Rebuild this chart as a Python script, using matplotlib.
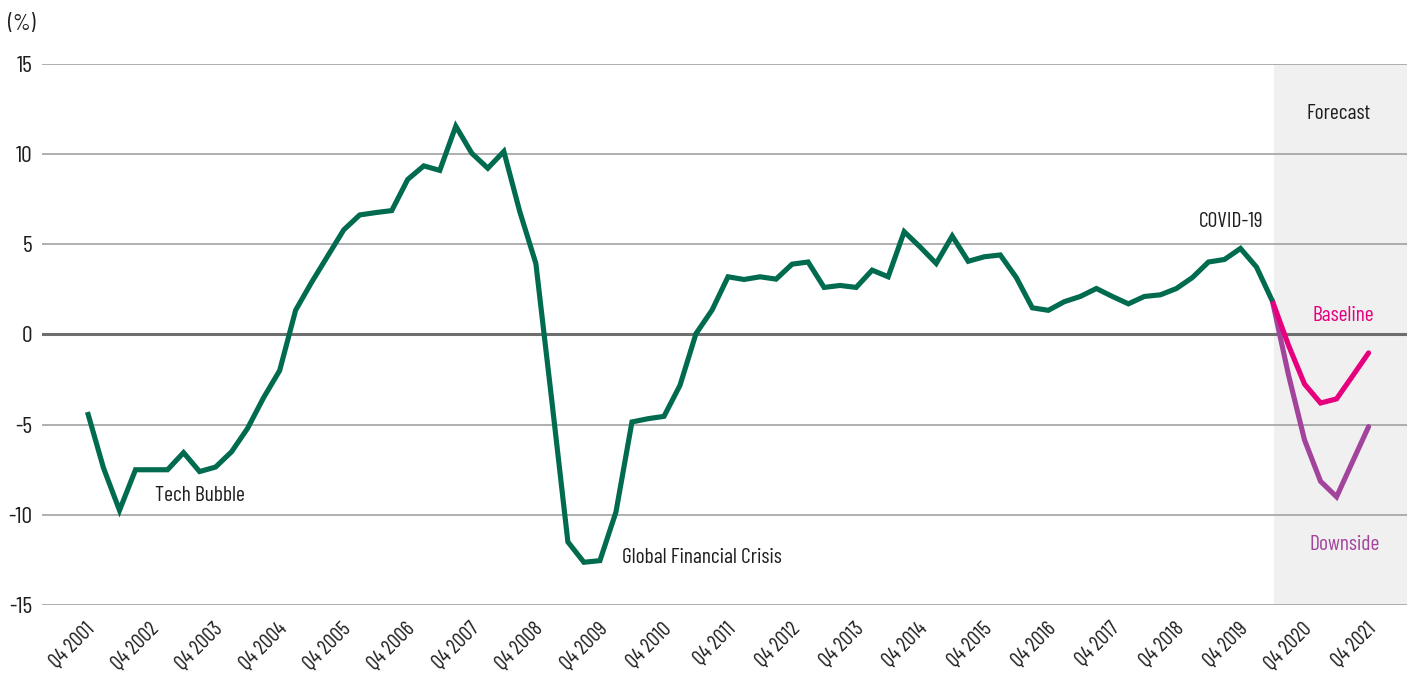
import matplotlib
matplotlib.use("Agg")
import matplotlib.pyplot as plt
import matplotlib.transforms as mtransforms
import numpy as np

plt.rcParams['font.family'] = ['Barlow Condensed', 'Roboto Condensed', 'DejaVu Sans']

# ---- data ----
history = [-4.3, -7.4, -9.75, -7.5, -7.5, -7.5, -6.55, -7.6, -7.35, -6.5,
           -5.2, -3.5, -2.0, 1.35, 2.9, 4.35, 5.8, 6.63, 6.76, 6.87,
           8.6, 9.35, 9.1, 11.55, 10.05, 9.22, 10.15, 6.8, 3.94, -3.7,
           -11.5, -12.63, -12.54, -9.85, -4.85, -4.67, -4.54, -2.82, 0.05, 1.35,
           3.2, 3.05, 3.2, 3.07, 3.9, 4.02, 2.61, 2.72, 2.61, 3.57,
           3.2, 5.7, 4.85, 3.94, 5.46, 4.06, 4.31, 4.41, 3.16, 1.48,
           1.34, 1.82, 2.11, 2.55, 2.11, 1.70, 2.11, 2.2, 2.55, 3.16,
           4.02, 4.16, 4.77, 3.74, 1.84]
baseline = [1.84, -0.6, -2.75, -3.8, -3.57, -2.3, -1.02]
downside = [1.84, -2.25, -5.85, -8.14, -9.0, -7.05, -5.11]
tick_labels = ["Q4 2001", "Q4 2002", "Q4 2003", "Q4 2004", "Q4 2005", "Q4 2006",
               "Q4 2007", "Q4 2008", "Q4 2009", "Q4 2010", "Q4 2011", "Q4 2012",
               "Q4 2013", "Q4 2014", "Q4 2015", "Q4 2016", "Q4 2017", "Q4 2018",
               "Q4 2019", "Q4 2020", "Q4 2021"]
y_ticks = [-15, -10, -5, 0, 5, 10, 15]

GREEN = "#006B4F"
PINK = "#E6007E"
PURPLE = "#A2449B"
TXT = "#1E1E1E"

fig = plt.figure(figsize=(14.09, 6.75), dpi=100)
ax = fig.add_axes([0.0298, 0.1037, 0.9688, 0.8015])

x_hist = np.arange(len(history))
start = len(history) - 1
x_fc = np.arange(start, start + len(baseline))
n_total = start + len(baseline) - 1

ax.set_xlim(-2.84, 82.4)
ax.set_ylim(-15, 15)

# forecast shading
ax.axvspan(start + 0.1, 82.4, color="#F0F0F0", zorder=0, lw=0)

# grid lines
for yv in y_ticks:
    if yv == 0:
        ax.axhline(yv, color="#6E6E6E", lw=2.2, zorder=1)
    else:
        ax.axhline(yv, color="#9A9A9A", lw=1.1, zorder=1)

ax.plot(x_fc, downside, color=PURPLE, lw=3.7, zorder=3, solid_capstyle="round", solid_joinstyle="miter")
ax.plot(x_fc, baseline, color=PINK, lw=3.7, zorder=4, solid_capstyle="round", solid_joinstyle="miter")
ax.plot(x_hist, history, color=GREEN, lw=3.7, zorder=5, solid_capstyle="butt", solid_joinstyle="miter")

for s in ax.spines.values():
    s.set_visible(False)

ax.set_yticks(y_ticks)
ax.set_yticklabels([str(v) for v in y_ticks], fontsize=17, color=TXT)
ax.tick_params(axis="y", length=0, pad=7)

xt = np.arange(0, n_total + 1, 4)
ax.set_xticks(xt)
ax.set_xticklabels(tick_labels, rotation=45, ha="right", va="center",
                   rotation_mode="anchor", fontsize=15, color=TXT)
ax.tick_params(axis="x", length=0, pad=15)
offset = mtransforms.ScaledTranslation(4.5 / 100, 0, fig.dpi_scale_trans)
for lab in ax.get_xticklabels():
    lab.set_transform(lab.get_transform() + offset)

ax.text(-4.1, 17.2, "(%)", fontsize=16, color=TXT, ha="center", va="center", clip_on=False)

ax.text(4.2, -8.95, "Tech Bubble", fontsize=15.5, color=TXT, ha="left", va="center")
ax.text(33.4, -12.37, "Global Financial Crisis", fontsize=15.5, color=TXT, ha="left", va="center")
ax.text(71.4, 6.24, "COVID-19", fontsize=15.5, color=TXT, ha="center", va="center")
ax.text(78.1, 12.25, "Forecast", fontsize=15.5, color=TXT, ha="center", va="center")
ax.text(78.4, 1.05, "Baseline", fontsize=15.5, color=PINK, ha="center", va="center")
ax.text(78.5, -11.65, "Downside", fontsize=15.5, color=PURPLE, ha="center", va="center")

fig.savefig("out.png", dpi=100, facecolor="white")
